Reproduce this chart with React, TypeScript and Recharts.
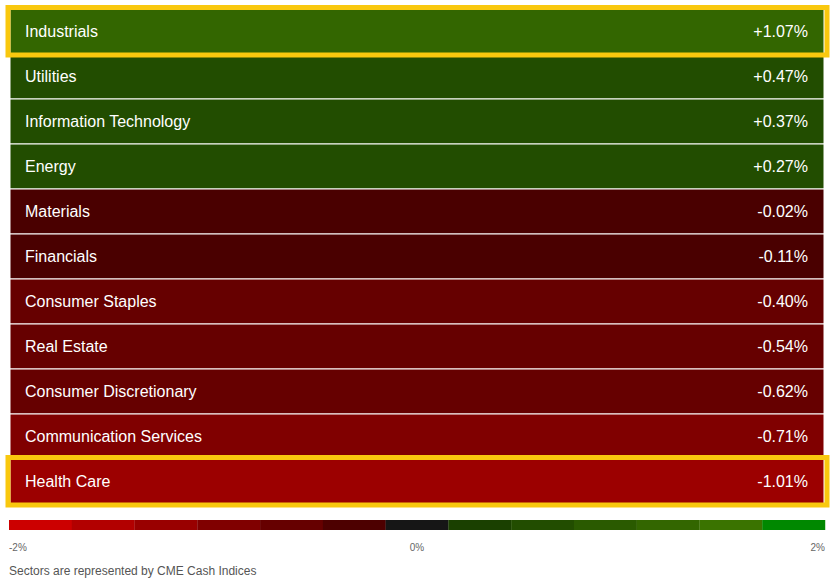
import React from 'react';
import { BarChart, Bar, XAxis, YAxis, Cell, LabelList } from 'recharts';

const SECTORS = [
  'Industrials',
  'Utilities',
  'Information Technology',
  'Energy',
  'Materials',
  'Financials',
  'Consumer Staples',
  'Real Estate',
  'Consumer Discretionary',
  'Communication Services',
  'Health Care',
];
const CHANGES = [1.07, 0.47, 0.37, 0.27, -0.02, -0.11, -0.4, -0.54, -0.62, -0.71, -1.01];
const ROW_COLORS = [
  '#336600',
  '#224d00',
  '#224d00',
  '#224d00',
  '#4a0000',
  '#4a0000',
  '#660000',
  '#660000',
  '#660000',
  '#800000',
  '#9c0000',
];
const HIGHLIGHTED = ['Industrials', 'Health Care'];

const SCALE_COLORS = [
  '#cc0000',
  '#b20000',
  '#990000',
  '#800000',
  '#660000',
  '#4d0000',
  '#161616',
  '#1a4000',
  '#224d00',
  '#2a5a00',
  '#336600',
  '#3a7300',
  '#008800',
];
const SCALE_LABELS = ['-2%', '0%', '2%'];

const FONT = '"Liberation Sans", Arial, sans-serif';
const HIGHLIGHT = '#f9c80e';

const fmt = (v: number) => `${v > 0 ? '+' : ''}${v.toFixed(2)}%`;

const rows = SECTORS.map((name, i) => ({
  name,
  change: CHANGES[i],
  label: fmt(CHANGES[i]),
  span: 1,
  highlight: HIGHLIGHTED.includes(name),
}));

const scaleData = SCALE_COLORS.map((c, i) => ({
  key: i,
  span: 1,
  tick: i === 0 ? SCALE_LABELS[0] : i === 6 ? SCALE_LABELS[1] : i === 12 ? SCALE_LABELS[2] : '',
}));

function Frame(props: any) {
  const { x, y, width, height, value } = props;
  if (!value) return null;
  return (
    <rect
      x={x - 2}
      y={y - 1.5}
      width={width + 5}
      height={height + 2.5}
      fill="none"
      stroke={HIGHLIGHT}
      strokeWidth={5}
    />
  );
}

function NameLabel(props: any) {
  const { x, y, height, value } = props;
  return (
    <text x={x + 15} y={y + height / 2} dominantBaseline="central" fill="#fff" fontSize={16} fontFamily={FONT}>
      {value}
    </text>
  );
}

function ValueLabel(props: any) {
  const { x, y, width, height, value } = props;
  return (
    <text
      x={x + width - 16}
      y={y + height / 2}
      dominantBaseline="central"
      textAnchor="end"
      fill="#fff"
      fontSize={16}
      fontFamily={FONT}
    >
      {value}
    </text>
  );
}

function ScaleTick(props: any) {
  const { x, y, payload } = props;
  const label = scaleData[payload.index]?.tick;
  if (!label) return null;
  const half = payload.offset || 31.4;
  let anchor: 'start' | 'middle' | 'end' = 'middle';
  let tx = x;
  if (payload.index === 0) {
    anchor = 'start';
    tx = x - half;
  } else if (payload.index === scaleData.length - 1) {
    anchor = 'end';
    tx = x + half;
  }
  return (
    <text x={tx} y={y + 9} textAnchor={anchor} dominantBaseline="central" fill="#666" fontSize={10} fontFamily={FONT}>
      {label}
    </text>
  );
}

export default function App() {
  return (
    <div style={{ position: 'absolute', left: 0, top: 0, width: 837, height: 585, background: '#fff', fontFamily: FONT }}>
      <div style={{ position: 'absolute', left: 0, top: 0 }}>
        <BarChart
          width={837}
          height={515}
          data={rows}
          layout="vertical"
          barCategoryGap={0}
          margin={{ top: 9, right: 13, left: 10, bottom: 11 }}
        >
          <XAxis type="number" domain={[0, 1]} hide />
          <YAxis type="category" dataKey="name" hide />
          <Bar dataKey="span" isAnimationActive={false} stroke="#fff" strokeWidth={1}>
            {rows.map((r, i) => (
              <Cell key={r.name} fill={ROW_COLORS[i]} />
            ))}
            <LabelList dataKey="highlight" content={<Frame />} />
            <LabelList dataKey="name" content={<NameLabel />} />
            <LabelList dataKey="label" content={<ValueLabel />} />
          </Bar>
        </BarChart>
      </div>
      <div style={{ position: 'absolute', left: 0, top: 510 }}>
        <BarChart
          width={837}
          height={50}
          data={scaleData}
          barCategoryGap={0}
          margin={{ top: 10, right: 12, left: 9, bottom: 0 }}
        >
          <XAxis
            dataKey="key"
            height={30}
            axisLine={false}
            tickLine={false}
            interval={0}
            tick={<ScaleTick />}
          />
          <YAxis type="number" domain={[0, 1]} hide />
          <Bar dataKey="span" isAnimationActive={false}>
            {scaleData.map((s, i) => (
              <Cell key={s.key} fill={SCALE_COLORS[i]} />
            ))}
          </Bar>
        </BarChart>
      </div>
      <div style={{ position: 'absolute', left: 9, top: 563, fontSize: 12, color: '#555', lineHeight: '16px' }}>
        Sectors are represented by CME Cash Indices
      </div>
    </div>
  );
}
